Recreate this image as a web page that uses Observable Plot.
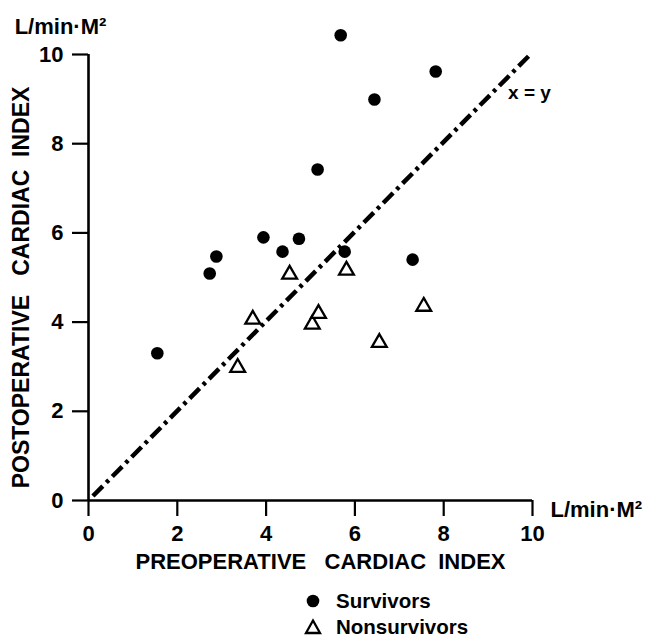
<!DOCTYPE html>
<html>
<head>
<meta charset="utf-8">
<script src="https://cdn.jsdelivr.net/npm/d3@7"></script>
<script src="https://cdn.jsdelivr.net/npm/@observablehq/plot@0.6"></script>
<style>
  body { margin: 0; background: white; font-family: "Liberation Sans", Arial, sans-serif; }
  #wrap { position: relative; width: 655px; height: 638px; }
  .leg { position: absolute; left: 304px; font-weight: bold; font-size: 20.5px; display: flex; align-items: center; }
  .leg svg { margin-right: 14px; }
</style>
</head>
<body>
<div id="wrap"></div>
<script>
// Survivors (filled circles)
const survivorsX = [1.55, 2.73, 2.88, 3.94, 4.37, 4.74, 5.16, 5.68, 6.44, 7.82, 5.77, 7.30];
const survivorsY = [3.30, 5.09, 5.47, 5.90, 5.58, 5.87, 7.42, 10.43, 8.99, 9.62, 5.58, 5.40];
// Nonsurvivors (open triangles)
const nonsurvivorsX = [3.36, 3.70, 4.53, 5.04, 5.18, 5.81, 6.55, 7.55];
const nonsurvivorsY = [2.98, 4.06, 5.07, 3.95, 4.19, 5.16, 3.54, 4.35];
// Identity line x = y
const identityX = [0.1, 9.93];
const identityY = [0.1, 9.98];
// Tick labels
const xTicks = [0, 2, 4, 6, 8, 10];
const yTicks = [0, 2, 4, 6, 8, 10];
// Texts
const xTitle = "PREOPERATIVE\u00a0\u00a0\u00a0CARDIAC\u00a0\u00a0INDEX";
const yTitle = "POSTOPERATIVE\u00a0\u00a0\u00a0CARDIAC\u00a0\u00a0INDEX";
const unitLabel = "L/min\u00b7M\u00b2";
const lineLabel = "x = y";

const survivors = survivorsX.map((x, i) => ({x, y: survivorsY[i]}));
const nonsurvivors = nonsurvivorsX.map((x, i) => ({x, y: nonsurvivorsY[i]}));
const identity = identityX.map((x, i) => ({x, y: identityY[i]}));

const chart = Plot.plot({
  width: 655,
  height: 580,
  marginLeft: 88,
  marginRight: 123,
  marginTop: 54,
  marginBottom: 80,
  x: {domain: [0, 10]},
  y: {domain: [0, 10]},
  style: {fontFamily: "'Liberation Sans', Arial, sans-serif", color: "black", background: "white", overflow: "visible"},
  marks: [
    Plot.axisX({ticks: xTicks, tickSize: 16, tickPadding: 9, fontSize: 22, fontWeight: "bold", strokeWidth: 2.2,
      tickFormat: d => String(d), label: xTitle, labelArrow: "none", labelAnchor: "center", labelOffset: 68}),
    Plot.axisY({ticks: yTicks, tickSize: 16, tickPadding: 9, fontSize: 22, fontWeight: "bold", strokeWidth: 2.2,
      tickFormat: d => String(d), label: yTitle, labelArrow: "none", labelAnchor: "center", labelOffset: 76}),
    Plot.ruleX([0], {y1: 0, y2: 10, strokeWidth: 2.6}),
    Plot.ruleY([0], {strokeWidth: 2.6}),
    Plot.line(identity, {x: "x", y: "y", stroke: "black", strokeWidth: 4.5, strokeDasharray: "14,5,3.5,5", strokeLinecap: "butt"}),
    Plot.dot(survivors, {x: "x", y: "y", r: 6.3, fill: "black"}),
    Plot.dot(nonsurvivors, {x: "x", y: "y", symbol: "triangle", r: 5.5, stroke: "black", strokeWidth: 2.3, fill: "white"}),
    Plot.text([lineLabel], {x: 9.45, y: 9.13, text: d => d, textAnchor: "start", fontSize: 19, fontWeight: "bold"}),
    Plot.text([unitLabel], {x: 0, y: 10, text: d => d, dx: -28, dy: -28, fontSize: 22, fontWeight: "bold"}),
    Plot.text([unitLabel], {x: 10, y: 0, text: d => d, dx: 18, dy: 9, textAnchor: "start", fontSize: 22, fontWeight: "bold"})
  ]
});

d3.select(chart).selectAll('g[aria-label="x-axis label"] text')
  .attr("font-size", 22).attr("font-weight", "bold").attr("dx", 10);
d3.select(chart).selectAll('g[aria-label="y-axis label"] text')
  .attr("font-size", 23).attr("font-weight", "bold").attr("dx", -10);

const wrap = document.getElementById("wrap");
wrap.appendChild(chart);

const leg1 = document.createElement("div");
leg1.className = "leg";
leg1.style.top = "589px";
leg1.innerHTML = '<svg width="18" height="18"><circle cx="9" cy="9" r="6.3" fill="black"/></svg><span>Survivors</span>';
const leg2 = document.createElement("div");
leg2.className = "leg";
leg2.style.top = "615px";
leg2.innerHTML = '<svg width="18" height="18"><path d="M9,2.5 L16,15 L2,15 Z" fill="white" stroke="black" stroke-width="2.3"/></svg><span>Nonsurvivors</span>';
wrap.appendChild(leg1);
wrap.appendChild(leg2);
</script>
</body>
</html>
